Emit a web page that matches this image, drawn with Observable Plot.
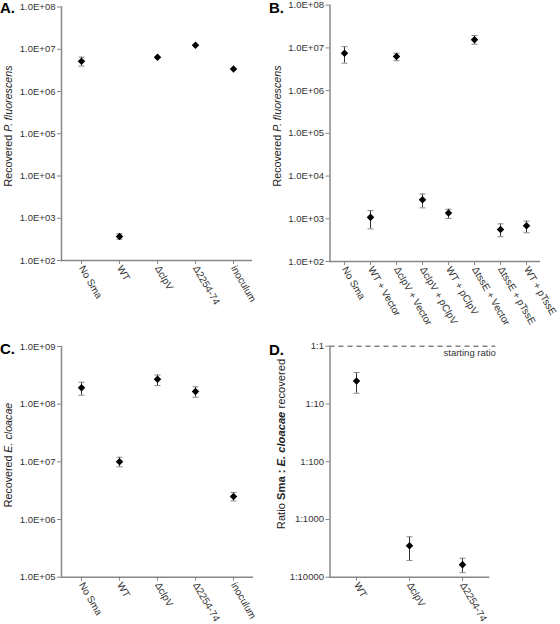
<!DOCTYPE html>
<html>
<head>
<meta charset="utf-8">
<script src="https://cdn.jsdelivr.net/npm/d3@7"></script>
<script src="https://cdn.jsdelivr.net/npm/@observablehq/plot@0.6"></script>
<style>
  html, body { margin: 0; padding: 0; background: #fff; }
  #fig { position: relative; width: 560px; height: 624px; overflow: hidden; font-family: "Liberation Sans", Arial, sans-serif; }
  #fig > svg, #fig > figure { position: absolute; margin: 0; }
</style>
</head>
<body>
<div id="fig"></div>
<script>
// ---------- Data ----------
// Panel A: Recovered P. fluorescens
const catsA = ["No Sma", "WT", "\u0394clpV", "\u03942254-74", "inoculum"];
const valsA = [5.2e6, 3.7e2, 6.5e6, 1.25e7, 3.4e6];
const loA   = [4.0e6, 3.2e2, null, null, null];
const hiA   = [6.5e6, 4.3e2, null, null, null];

// Panel B: Recovered P. fluorescens
const catsB = ["No Sma", "WT + Vector", "\u0394clpV + Vector", "\u0394clpV + pClpV",
               "WT + pClpV", "\u0394tssE + Vector", "\u0394tssE + pTssE", "WT + pTssE"];
const valsB = [7.5e6, 1.08e3, 6.3e6, 2.8e3, 1.37e3, 1.55e7, 5.6e2, 6.9e2];
const loB   = [4.4e6, 5.8e2, 5.0e6, 1.8e3, 1.02e3, 1.22e7, 3.8e2, 4.7e2];
const hiB   = [1.07e7, 1.55e3, 7.5e6, 3.8e3, 1.67e3, 1.95e7, 7.6e2, 8.8e2];

// Panel C: Recovered E. cloacae
const catsC = ["No Sma", "WT", "\u0394clpV", "\u03942254-74", "inoculum"];
const valsC = [1.92e8, 1.0e7, 2.7e8, 1.66e8, 2.5e6];
const loC   = [1.43e8, 8.2e6, 2.1e8, 1.32e8, 2.1e6];
const hiC   = [2.4e8, 1.2e7, 3.2e8, 2.0e8, 2.95e6];

// Panel D: Ratio Sma : E. cloacae recovered
const catsD = ["WT", "\u0394clpV", "\u03942254-74"];
const valsD = [0.25, 3.5e-4, 1.65e-4];
const loD   = [0.153, 1.95e-4, 1.2e-4];
const hiD   = [0.35, 5.0e-4, 2.13e-4];
const startRatio = [1];

// Tick values
const ticksAB = [1e2, 1e3, 1e4, 1e5, 1e6, 1e7, 1e8];
const ticksC  = [1e5, 1e6, 1e7, 1e8, 1e9];
const ticksD  = [1e-4, 1e-3, 1e-2, 1e-1, 1];

// ---------- Helpers ----------
const FONT = '"Liberation Sans", Arial, sans-serif';
const sciFmt = d => "1.0E+" + String(Math.round(Math.log10(d))).padStart(2, "0");
const ratioFmt = d => "1:" + Math.round(1 / d);
const capSymbol = {draw(ctx) { ctx.moveTo(-3, 0); ctx.lineTo(3, 0); }};

function panel({cats, vals, lo, hi, domain, ticks, fmt, margins, extra = []}) {
  const rows = cats.map((c, i) => ({c, v: vals[i], lo: lo[i], hi: hi[i]}));
  const err = rows.filter(d => d.lo != null);
  return Plot.plot({
    width: 280, height: 312, ...margins,
    style: {fontFamily: FONT, fontSize: "9.5px", background: "transparent", overflow: "visible"},
    x: {type: "point", domain: cats, padding: 0.5},
    y: {type: "log", domain},
    marks: [
      ...extra,
      Plot.axisY({ticks, tickFormat: fmt, tickSize: 4, tickPadding: 2, fontSize: 9.5,
                  stroke: "#888", fill: "#333", label: null}),
      Plot.axisX({tickRotate: 60, tickSize: 4, tickPadding: 2, fontSize: 10,
                  stroke: "#888", fill: "#333", label: null}),
      Plot.frame({anchor: "left", stroke: "#888", strokeWidth: 1.5}),
      Plot.ruleY([domain[0]], {stroke: "#888", strokeWidth: 1.5}),
      Plot.ruleX(err, {x: "c", y1: "lo", y2: "hi", stroke: "#333", strokeWidth: 1}),
      Plot.dot(err, {x: "c", y: "lo", symbol: capSymbol, fill: "none", stroke: "#888", strokeWidth: 1}),
      Plot.dot(err, {x: "c", y: "hi", symbol: capSymbol, fill: "none", stroke: "#888", strokeWidth: 1}),
      Plot.dot(rows, {x: "c", y: "v", symbol: "diamond2", r: 3.4, fill: "black", stroke: "none"})
    ]
  });
}

const fig = document.getElementById("fig");

const pA = panel({cats: catsA, vals: valsA, lo: loA, hi: hiA, domain: [1e2, 1e8], ticks: ticksAB, fmt: sciFmt,
  margins: {marginLeft: 61, marginRight: 28, marginTop: 6.5, marginBottom: 52}});
const pB = panel({cats: catsB, vals: valsB, lo: loB, hi: hiB, domain: [1e2, 1e8], ticks: ticksAB, fmt: sciFmt,
  margins: {marginLeft: 49.5, marginRight: 20, marginTop: 4.7, marginBottom: 51}});
const pC = panel({cats: catsC, vals: valsC, lo: loC, hi: hiC, domain: [1e5, 1e9], ticks: ticksC, fmt: sciFmt,
  margins: {marginLeft: 61, marginRight: 27, marginTop: 34, marginBottom: 47.3}});
const pD = panel({cats: catsD, vals: valsD, lo: loD, hi: hiD, domain: [1e-4, 1], ticks: ticksD, fmt: ratioFmt,
  margins: {marginLeft: 49.5, marginRight: 70.7, marginTop: 33.7, marginBottom: 47.3},
  extra: [
    Plot.ruleY(startRatio, {stroke: "#444", strokeDasharray: "5,4", insetRight: -6}),
    Plot.text(["starting ratio"], {frameAnchor: "top-right", dx: 6, dy: 3, lineAnchor: "top",
      textAnchor: "end", fill: "#333", fontSize: 9.5})
  ]});

[[pA, 0, 0], [pB, 280, 0], [pC, 0, 312], [pD, 280, 312]].forEach(([p, x, y]) => {
  p.style.left = x + "px"; p.style.top = y + "px";
  fig.appendChild(p);
});

// ---------- Overlay: panel letters and axis titles ----------
const ov = d3.select(fig).append("svg")
  .attr("width", 560).attr("height", 624)
  .style("left", "0px").style("top", "0px")
  .style("font-family", FONT);

[["A.", 0, 13], ["B.", 269, 13], ["C.", 0, 354], ["D.", 269, 355]].forEach(([t, x, y]) => {
  ov.append("text").attr("x", x).attr("y", y).attr("font-size", 15).attr("font-weight", "bold")
    .attr("fill", "#000").text(t);
});

function yTitle(cx, cy, parts, size) {
  const t = ov.append("text")
    .attr("transform", `translate(${cx},${cy}) rotate(-90)`)
    .attr("text-anchor", "middle").attr("dy", "0.35em")
    .attr("font-size", size).attr("fill", "#222");
  parts.forEach(([s, style, weight]) => {
    t.append("tspan").attr("font-style", style || "normal").attr("font-weight", weight || "normal").text(s);
  });
}
yTitle(8, 126, [["Recovered "], ["P. fluorescens", "italic"]], 10.7);
yTitle(277, 126, [["Recovered "], ["P. fluorescens", "italic"]], 10.7);
yTitle(8, 455, [["Recovered "], ["E. cloacae", "italic"]], 10.7);
yTitle(281.5, 444, [["Ratio "], ["Sma : ", "normal", "bold"], ["E. cloacae", "italic", "bold"], [" recovered"]], 11.2);
</script>
</body>
</html>
